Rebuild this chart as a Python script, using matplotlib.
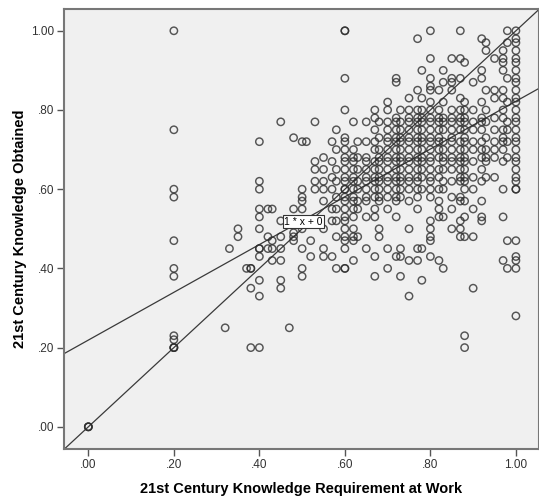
import numpy as np
import matplotlib
matplotlib.use('Agg')
import matplotlib.pyplot as plt

plt.rcParams['font.family'] = ['Liberation Sans', 'DejaVu Sans']

# scattered respondents (left / lower part of the cloud)
sparse_x = [0.00, 0.00, 0.00,
            0.20, 0.20, 0.20, 0.20, 0.20, 0.20, 0.20, 0.20, 0.20, 0.20, 0.20, 0.20,
            0.32, 0.33, 0.35, 0.35, 0.37, 0.38, 0.38, 0.38, 0.38, 0.40,
            0.40, 0.40, 0.40, 0.40, 0.40, 0.40, 0.40, 0.40, 0.40, 0.40, 0.40,
            0.42, 0.43, 0.42, 0.43, 0.42, 0.43, 0.43, 0.45, 0.45, 0.45, 0.45, 0.45, 0.45, 0.45,
            0.47, 0.48, 0.48, 0.48, 0.48, 0.48,
            0.50, 0.50, 0.50, 0.50, 0.50, 0.50, 0.50, 0.50, 0.50,
            0.51, 0.52, 0.52, 0.53, 0.53, 0.53, 0.53, 0.53,
            0.55, 0.55, 0.55, 0.55, 0.55, 0.55, 0.55, 0.55,
            0.57, 0.57, 0.57, 0.57, 0.57, 0.57, 0.57,
            0.58, 0.58, 0.58, 0.58, 0.58, 0.58, 0.58, 0.58, 0.58]
sparse_y = [0.00, 0.00, 0.00,
            1.00, 0.75, 0.60, 0.58, 0.47, 0.40, 0.38, 0.23, 0.22, 0.20, 0.20, 0.20,
            0.25, 0.45, 0.50, 0.48, 0.40, 0.40, 0.40, 0.35, 0.20, 0.20,
            0.72, 0.62, 0.60, 0.55, 0.53, 0.50, 0.45, 0.45, 0.43, 0.37, 0.33,
            0.55, 0.55, 0.45, 0.45, 0.48, 0.47, 0.42, 0.42, 0.45, 0.48, 0.52, 0.77, 0.37, 0.35,
            0.25, 0.55, 0.73, 0.48, 0.47, 0.49,
            0.72, 0.60, 0.58, 0.57, 0.55, 0.50, 0.45, 0.40, 0.38,
            0.72, 0.47, 0.43, 0.77, 0.67, 0.65, 0.62, 0.60,
            0.68, 0.65, 0.62, 0.60, 0.57, 0.50, 0.45, 0.43,
            0.72, 0.67, 0.63, 0.60, 0.55, 0.52, 0.43,
            0.75, 0.70, 0.65, 0.62, 0.58, 0.55, 0.52, 0.48, 0.40]

# dense columns: requirement score -> obtained scores
dense_x = [0.60, 0.62, 0.63, 0.65, 0.67, 0.68, 0.70, 0.72, 0.73, 0.75, 0.77, 0.78, 0.80,
           0.82, 0.83, 0.85, 0.87, 0.88, 0.90, 0.92, 0.93, 0.95, 0.97, 0.98, 1.00]
dense_y = [
    [1.00, 1.00, 0.88, 0.80, 0.73, 0.72, 0.70, 0.68, 0.67, 0.65, 0.63, 0.62, 0.60, 0.60, 0.58, 0.57, 0.55, 0.53, 0.52, 0.50, 0.48, 0.47, 0.45, 0.40, 0.40],
    [0.77, 0.70, 0.68, 0.67, 0.65, 0.63, 0.62, 0.60, 0.58, 0.57, 0.55, 0.53, 0.50, 0.48, 0.47, 0.42],
    [0.72, 0.68, 0.65, 0.62, 0.60, 0.57, 0.55, 0.48],
    [0.77, 0.72, 0.68, 0.67, 0.65, 0.63, 0.62, 0.60, 0.58, 0.57, 0.53, 0.45],
    [0.80, 0.78, 0.75, 0.72, 0.70, 0.67, 0.65, 0.63, 0.62, 0.60, 0.58, 0.55, 0.53, 0.43, 0.38],
    [0.77, 0.73, 0.70, 0.68, 0.67, 0.65, 0.63, 0.62, 0.60, 0.58, 0.57, 0.50, 0.48],
    [0.82, 0.80, 0.77, 0.75, 0.73, 0.72, 0.70, 0.68, 0.67, 0.65, 0.63, 0.62, 0.60, 0.58, 0.55, 0.45, 0.40],
    [0.88, 0.87, 0.78, 0.77, 0.75, 0.73, 0.72, 0.70, 0.68, 0.67, 0.65, 0.63, 0.62, 0.60, 0.58, 0.57, 0.53, 0.43],
    [0.80, 0.77, 0.75, 0.73, 0.72, 0.70, 0.68, 0.67, 0.65, 0.63, 0.62, 0.60, 0.58, 0.45, 0.43, 0.38],
    [0.83, 0.80, 0.78, 0.77, 0.75, 0.73, 0.72, 0.70, 0.68, 0.67, 0.65, 0.63, 0.62, 0.60, 0.57, 0.50, 0.42, 0.33],
    [0.98, 0.85, 0.80, 0.78, 0.77, 0.75, 0.73, 0.72, 0.70, 0.68, 0.67, 0.65, 0.63, 0.62, 0.60, 0.58, 0.55, 0.45, 0.42],
    [0.90, 0.83, 0.80, 0.78, 0.77, 0.75, 0.73, 0.72, 0.70, 0.68, 0.67, 0.65, 0.63, 0.60, 0.45, 0.37],
    [1.00, 0.93, 0.88, 0.86, 0.85, 0.82, 0.80, 0.78, 0.77, 0.75, 0.73, 0.72, 0.70, 0.68, 0.67, 0.65, 0.63, 0.62, 0.60, 0.58, 0.52, 0.50, 0.48, 0.47, 0.43],
    [0.85, 0.80, 0.78, 0.77, 0.75, 0.73, 0.72, 0.70, 0.68, 0.65, 0.63, 0.60, 0.57, 0.55, 0.53, 0.42],
    [0.90, 0.87, 0.82, 0.78, 0.77, 0.75, 0.72, 0.70, 0.68, 0.67, 0.65, 0.62, 0.60, 0.53, 0.40],
    [0.93, 0.88, 0.87, 0.85, 0.80, 0.78, 0.77, 0.75, 0.73, 0.72, 0.70, 0.68, 0.67, 0.65, 0.62, 0.58, 0.55, 0.50],
    [1.00, 0.93, 0.88, 0.83, 0.80, 0.78, 0.77, 0.75, 0.72, 0.70, 0.68, 0.67, 0.65, 0.63, 0.62, 0.58, 0.57, 0.52, 0.50, 0.48],
    [0.92, 0.82, 0.80, 0.78, 0.77, 0.75, 0.73, 0.72, 0.70, 0.68, 0.67, 0.65, 0.63, 0.62, 0.60, 0.57, 0.53, 0.48, 0.23, 0.20],
    [0.87, 0.80, 0.77, 0.75, 0.72, 0.70, 0.67, 0.63, 0.60, 0.55, 0.48, 0.35],
    [0.98, 0.90, 0.88, 0.82, 0.78, 0.77, 0.75, 0.72, 0.70, 0.68, 0.65, 0.62, 0.57, 0.53, 0.52],
    [0.97, 0.95, 0.85, 0.80, 0.77, 0.73, 0.70, 0.68, 0.67, 0.63],
    [0.93, 0.85, 0.83, 0.78, 0.75, 0.72, 0.70, 0.68, 0.63],
    [0.95, 0.93, 0.92, 0.90, 0.85, 0.83, 0.80, 0.78, 0.75, 0.73, 0.72, 0.70, 0.67, 0.60, 0.53, 0.42],
    [1.00, 0.97, 0.88, 0.82, 0.77, 0.75, 0.72, 0.68, 0.47, 0.40],
    [1.00, 0.98, 0.97, 0.95, 0.93, 0.92, 0.90, 0.88, 0.87, 0.85, 0.83, 0.82, 0.80, 0.78, 0.77, 0.75, 0.73, 0.72, 0.70, 0.68, 0.67, 0.65, 0.63, 0.62, 0.60, 0.60, 0.47, 0.43, 0.42, 0.40, 0.28],
]

# fit line and reference line y = x
fit_intercept = 0.219
fit_slope = 0.603

ticks = [0.0, 0.2, 0.4, 0.6, 0.8, 1.0]
tick_labels = ['.00', '.20', '.40', '.60', '.80', '1.00']

all_x = list(sparse_x)
all_y = list(sparse_y)
for xv, ys in zip(dense_x, dense_y):
    all_x += [xv] * len(ys)
    all_y += ys

fig = plt.figure(figsize=(5.39, 4.97), dpi=100)
ax = fig.add_axes([0.1187, 0.0966, 0.8813, 0.8853])
ax.set_facecolor('#f0f0f0')

ax.scatter(all_x, all_y, s=28, facecolors='none', edgecolors='#2e2e2e',
           linewidths=1.05, alpha=0.8, zorder=3)

line_col = '#3a3a3a'
ax.axline((0, 0), slope=1, color=line_col, lw=0.9, zorder=2)
ax.axline((0, fit_intercept), slope=fit_slope, color=line_col, lw=0.9, zorder=2)

ax.text(0.458, 0.518, '1 * x + 0', fontsize=7.5, ha='left', va='center', zorder=5,
        bbox=dict(boxstyle='square,pad=0.15', fc='white', ec='#333333', lw=0.8))

ax.set_xlim(-0.057, 1.054)
ax.set_ylim(-0.056, 1.055)
ax.set_xticks(ticks)
ax.set_xticklabels(tick_labels)
ax.set_yticks(ticks)
ax.set_yticklabels(tick_labels)
ax.tick_params(direction='out', length=5, width=1, color='#555555',
               labelsize=8.5, labelcolor='#333333', pad=2)

for sp in ax.spines.values():
    sp.set_color('#777777')
    sp.set_linewidth(1.5)

ax.set_xlabel('21st Century Knowledge Requirement at Work', fontsize=10.5,
              fontweight='bold', labelpad=8)
ax.set_ylabel('21st Century Knowledge Obtained', fontsize=10.5,
              fontweight='bold', labelpad=3)

fig.savefig('out.png', dpi=100)
